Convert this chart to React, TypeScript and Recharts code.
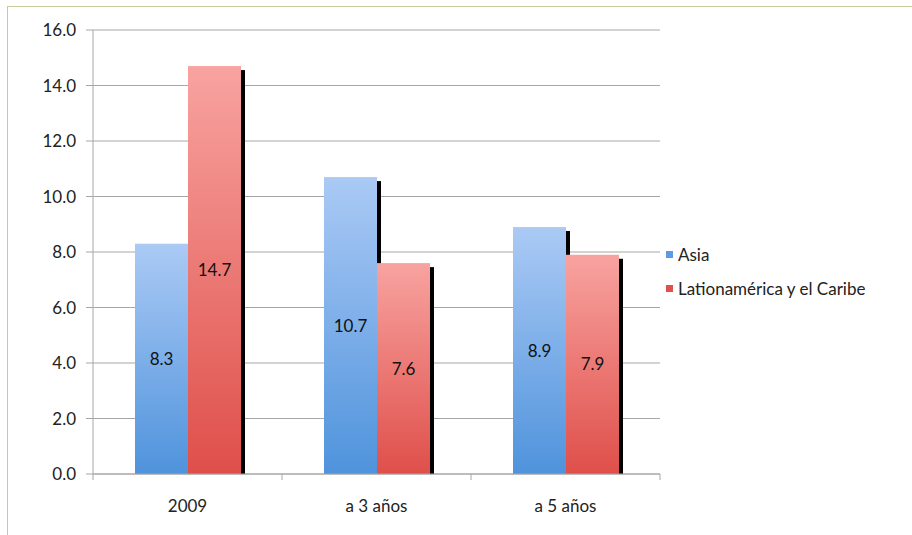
import { BarChart, Bar, XAxis, YAxis, CartesianGrid, LabelList } from "recharts";

const categories = ["2009", "a 3 años", "a 5 años"];
const asia = [8.3, 10.7, 8.9];
const latam = [14.7, 7.6, 7.9];
const yTicks = [0, 2, 4, 6, 8, 10, 12, 14, 16];
const seriesNames = ["Asia", "Lationamérica y el Caribe"];

const data = categories.map((name, i) => ({ name, asia: asia[i], latam: latam[i] }));

const FONT = "Lato, 'Open Sans', sans-serif";
const W = 912;
const H = 535;
const LEFT = 93;
const RIGHT = 252;
const BAND = (W - LEFT - RIGHT) / categories.length;

const ShadowBar = (props: any) => {
  const { x, y, width, height, fill } = props;
  if (!height || height <= 0) return null;
  return (
    <g>
      <rect x={x + 4} y={y + 4} width={width} height={height - 4} fill="#000" />
      <rect x={x} y={y} width={width} height={height} fill={fill} />
    </g>
  );
};

// category ticks sit on the band boundaries, not the centres
const XTick = (props: any) => {
  const { x, y, payload, index } = props;
  const last = index === categories.length - 1;
  const top = y - 8;
  return (
    <g>
      <line x1={x - BAND / 2} x2={x - BAND / 2} y1={top} y2={top + 6} stroke="#a6a6a6" />
      {last && <line x1={x + BAND / 2} x2={x + BAND / 2} y1={top} y2={top + 6} stroke="#a6a6a6" />}
      <text x={x} y={top + 34} textAnchor="middle" dominantBaseline="middle" fontSize={17} fill="#222" fontFamily={FONT}>
        {payload.value}
      </text>
    </g>
  );
};

const legendColors = ["#5b9be6", "#e0504d"];

export default function App() {
  return (
    <div style={{ position: "absolute", left: 0, top: 0, width: W, height: H, background: "#fff" }}>
      <div
        style={{
          position: "absolute",
          left: 7,
          top: 6,
          width: W - 7,
          height: H - 6,
          borderLeft: "1px solid #c4cc9c",
          borderTop: "1px solid #c4cc9c",
        }}
      />
      <div style={{ position: "absolute", left: 0, top: 0 }}>
        <BarChart
          width={W}
          height={H}
          data={data}
          margin={{ top: 30, right: RIGHT, bottom: 0, left: 0 }}
          barSize={53}
          barGap={0}
        >
          <defs>
            <linearGradient id="gBlue" x1="0" y1="0" x2="0" y2="1">
              <stop offset="0%" stopColor="#abcaf5" />
              <stop offset="100%" stopColor="#4f93dc" />
            </linearGradient>
            <linearGradient id="gRed" x1="0" y1="0" x2="0" y2="1">
              <stop offset="0%" stopColor="#f8a3a0" />
              <stop offset="100%" stopColor="#df4f4a" />
            </linearGradient>
          </defs>
          <CartesianGrid vertical={false} stroke="#a6a6a6" />
          <XAxis
            dataKey="name"
            height={61}
            stroke="#a6a6a6"
            tickLine={false}
            tick={<XTick />}
            interval={0}
          />
          <YAxis
            width={LEFT}
            domain={[0, 16]}
            ticks={yTicks}
            tickFormatter={(v: number) => v.toFixed(1)}
            stroke="#a6a6a6"
            tickSize={7}
            tickMargin={10}
            tick={{ fontSize: 17, fill: "#222", fontFamily: FONT }}
          />
          <Bar dataKey="asia" name={seriesNames[0]} fill="url(#gBlue)" shape={<ShadowBar />} isAnimationActive={false}>
            <LabelList dataKey="asia" position="center" fontSize={17} fill="#111" fontFamily={FONT} formatter={(v: any) => Number(v).toFixed(1)} />
          </Bar>
          <Bar dataKey="latam" name={seriesNames[1]} fill="url(#gRed)" shape={<ShadowBar />} isAnimationActive={false}>
            <LabelList dataKey="latam" position="center" fontSize={17} fill="#111" fontFamily={FONT} formatter={(v: any) => Number(v).toFixed(1)} />
          </Bar>
        </BarChart>
      </div>
      <div style={{ position: "absolute", left: 666, top: 243, fontFamily: FONT, fontSize: 17, color: "#222" }}>
        {seriesNames.map((n, i) => (
          <div key={n} style={{ display: "flex", alignItems: "center", height: 22, marginBottom: 12 }}>
            <span style={{ width: 7, height: 7, background: legendColors[i], marginRight: 5, display: "inline-block" }} />
            {n}
          </div>
        ))}
      </div>
    </div>
  );
}
